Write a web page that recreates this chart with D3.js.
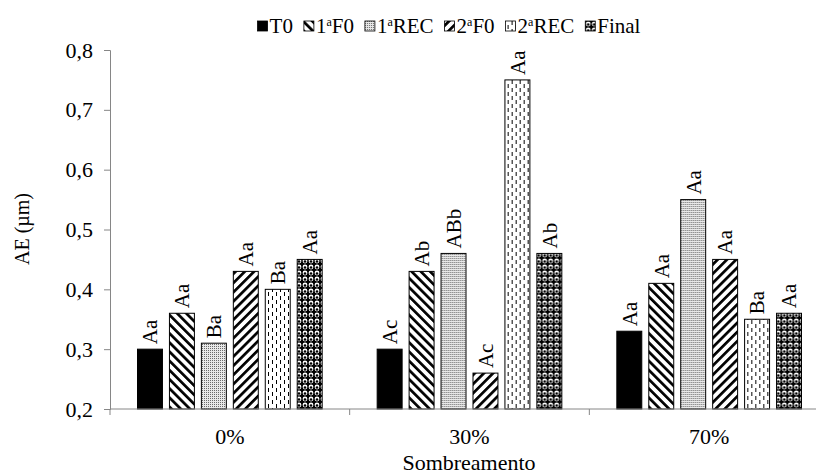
<!DOCTYPE html>
<html>
<head>
<meta charset="utf-8">
<script src="https://cdn.jsdelivr.net/npm/d3@7"></script>
<style>
  body { margin: 0; background: #fff; }
  text { font-family: "Liberation Serif", "Times New Roman", serif; fill: #000; }
</style>
</head>
<body>
<div id="chart"></div>
<script>
// data
var categories = ["0%", "30%", "70%"];
var series = ["T0", "1F0", "1REC", "2F0", "2REC", "Final"];
var seriesLabels = [["T0", "", ""], ["1", "a", "F0"], ["1", "a", "REC"], ["2", "a", "F0"], ["2", "a", "REC"], ["Final", "", ""]];
var valuesT0 = [0.30, 0.30, 0.33];
var values1F0 = [0.36, 0.43, 0.41];
var values1REC = [0.31, 0.46, 0.55];
var values2F0 = [0.43, 0.26, 0.45];
var values2REC = [0.40, 0.75, 0.35];
var valuesFinal = [0.45, 0.46, 0.36];
var lettersT0 = ["Aa", "Ac", "Aa"];
var letters1F0 = ["Aa", "Ab", "Aa"];
var letters1REC = ["Ba", "ABb", "Aa"];
var letters2F0 = ["Aa", "Ac", "Aa"];
var letters2REC = ["Ba", "Aa", "Ba"];
var lettersFinal = ["Aa", "Ab", "Aa"];
var yTicks = [0.2, 0.3, 0.4, 0.5, 0.6, 0.7, 0.8];

var allValues = [valuesT0, values1F0, values1REC, values2F0, values2REC, valuesFinal];
var allLetters = [lettersT0, letters1F0, letters1REC, letters2F0, letters2REC, lettersFinal];

var width = 816, height = 474;
var axisColor = "#868686";
var fs = 21;

var svg = d3.select("#chart").append("svg")
    .attr("width", width)
    .attr("height", height);

// fill patterns
var defs = svg.append("defs");

// 1aF0: "\\\" stripes
var p1 = defs.append("pattern").attr("id", "pat-1F0")
    .attr("patternUnits", "userSpaceOnUse")
    .attr("width", 6.5).attr("height", 8)
    .attr("patternTransform", "rotate(-45)");
p1.append("rect").attr("width", 6.5).attr("height", 8).attr("fill", "#fff");
p1.append("rect").attr("width", 2.7).attr("height", 8).attr("fill", "#000");

var p2 = defs.append("pattern").attr("id", "pat-1REC")
    .attr("patternUnits", "userSpaceOnUse")
    .attr("width", 2).attr("height", 2);
p2.append("rect").attr("width", 2).attr("height", 2).attr("fill", "#e8e8e8");
p2.append("rect").attr("width", 1).attr("height", 1).attr("fill", "#6a6a6a");

// 2aF0: "///" stripes
var p3 = defs.append("pattern").attr("id", "pat-2F0")
    .attr("patternUnits", "userSpaceOnUse")
    .attr("width", 6.5).attr("height", 8)
    .attr("patternTransform", "rotate(45)");
p3.append("rect").attr("width", 6.5).attr("height", 8).attr("fill", "#fff");
p3.append("rect").attr("width", 2.7).attr("height", 8).attr("fill", "#000");

var p4 = defs.append("pattern").attr("id", "pat-2REC")
    .attr("patternUnits", "userSpaceOnUse")
    .attr("width", 8).attr("height", 8);
p4.append("rect").attr("width", 8).attr("height", 8).attr("fill", "#fff");
p4.append("rect").attr("x", 2).attr("y", 0).attr("width", 1).attr("height", 4).attr("fill", "#000");
p4.append("rect").attr("x", 6).attr("y", 4).attr("width", 1).attr("height", 4).attr("fill", "#000");

var p5 = defs.append("pattern").attr("id", "pat-Final")
    .attr("patternUnits", "userSpaceOnUse")
    .attr("width", 6).attr("height", 6);
p5.append("rect").attr("width", 6).attr("height", 6).attr("fill", "#000");
p5.append("circle").attr("cx", 3).attr("cy", 3).attr("r", 2.4).attr("fill", "#fff");
p5.append("circle").attr("cx", 3).attr("cy", 3.5).attr("r", 1.3).attr("fill", "#000");

var fills = ["#000", "url(#pat-1F0)", "url(#pat-1REC)", "url(#pat-2F0)", "url(#pat-2REC)", "url(#pat-Final)"];

// scales
var x0 = d3.scaleBand().domain(categories).range([110, 829]).paddingInner(0).paddingOuter(0);
var x1 = d3.scaleBand().domain(series)
    .range([27.5, x0.bandwidth() - 27.5])
    .paddingInner(7 / 32).paddingOuter(0);
var y = d3.scaleLinear().domain([0.2, 0.8]).range([409, 50]);

// y axis
var yAxis = svg.append("g")
    .attr("transform", "translate(110,0)")
    .call(d3.axisLeft(y).tickValues(yTicks).tickSize(6).tickPadding(11)
        .tickFormat(function(d) { return d3.format(".1f")(d).replace(".", ","); }));
yAxis.select(".domain").attr("stroke", axisColor);
yAxis.selectAll(".tick line").attr("stroke", axisColor);
yAxis.selectAll(".tick text")
    .style("font-family", "Liberation Serif")
    .attr("font-size", 22).attr("fill", "#000");

// bars
var groups = svg.append("g").selectAll("g")
    .data(categories)
    .enter().append("g")
    .attr("transform", function(d) { return "translate(" + x0(d) + ",0)"; });

groups.each(function(cat, ci) {
    var g = d3.select(this);
    series.forEach(function(s, si) {
        var v = allValues[si][ci];
        g.append("rect")
            .attr("x", x1(s))
            .attr("y", y(v))
            .attr("width", x1.bandwidth())
            .attr("height", y(0.2) - y(v))
            .attr("fill", fills[si])
            .attr("stroke", "#000")
            .attr("stroke-width", 1);
        var cx = x1(s) + x1.bandwidth() / 2;
        var ty = y(v) - 5;
        g.append("text")
            .attr("transform", "translate(" + cx + "," + ty + ") rotate(-90)")
            .attr("dy", "0.35em")
            .attr("font-size", fs)
            .text(allLetters[si][ci]);
    });
});

// x axis
var xAxis = svg.append("g")
    .attr("transform", "translate(0,409)");
xAxis.append("line")
    .attr("x1", 110).attr("x2", 829)
    .attr("stroke", axisColor);
xAxis.selectAll(".xt")
    .data(categories)
    .enter().append("line")
    .attr("x1", function(d) { return x0(d); })
    .attr("x2", function(d) { return x0(d); })
    .attr("y1", 0).attr("y2", 6)
    .attr("stroke", axisColor);
xAxis.selectAll(".xl")
    .data(categories)
    .enter().append("text")
    .attr("x", function(d) { return x0(d) + x0.bandwidth() / 2; })
    .attr("y", 35)
    .attr("text-anchor", "middle")
    .attr("font-size", 22)
    .text(function(d) { return d; });

// axis titles
svg.append("text")
    .attr("x", 469).attr("y", 470)
    .attr("text-anchor", "middle")
    .attr("font-size", 22)
    .text("Sombreamento");

svg.append("text")
    .attr("transform", "translate(29,229) rotate(-90)")
    .attr("text-anchor", "middle")
    .attr("font-size", 20)
    .text("AE (µm)");

// legend, laid out then centred
var legend = svg.append("g");
var lx = 0;
var gap = 11;
series.forEach(function(s, si) {
    var item = legend.append("g").attr("transform", "translate(" + lx + ",0)");
    item.append("rect")
        .attr("x", 0).attr("y", -12)
        .attr("width", 10).attr("height", 10)
        .attr("fill", fills[si])
        .attr("stroke", "#000").attr("stroke-width", 0.8);
    var t = item.append("text").attr("x", 12).attr("font-size", fs);
    var parts = seriesLabels[si];
    t.append("tspan").text(parts[0]);
    if (parts[1]) {
        t.append("tspan").attr("font-size", 12).attr("dy", -7).text(parts[1]);
        t.append("tspan").attr("dy", 7).text(parts[2]);
    }
    var w = t.node().getComputedTextLength();
    lx += 12 + w + gap;
});
var legendW = lx - gap;
legend.attr("transform", "translate(" + (449 - legendW / 2) + ",33)");
</script>
</body>
</html>
